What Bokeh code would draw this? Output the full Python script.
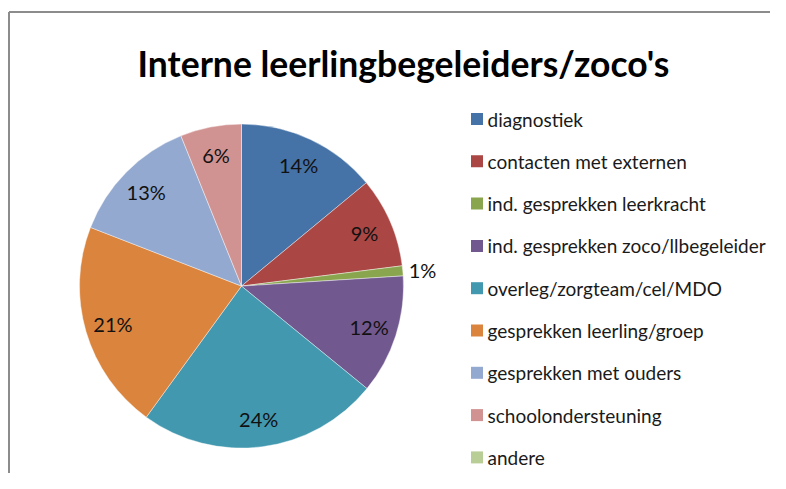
import numpy as np
from bokeh.plotting import figure
from bokeh.models import Range1d, ColumnDataSource
from bokeh.core.properties import value
from bokeh.embed import file_html
from bokeh.resources import INLINE

title = "Interne leerlingbegeleiders/zoco's"
categories = ["diagnostiek", "contacten met externen", "ind. gesprekken leerkracht",
              "ind. gesprekken zoco/llbegeleider", "overleg/zorgteam/cel/MDO",
              "gesprekken leerling/groep", "gesprekken met ouders",
              "schoolondersteuning", "andere"]
shares = [14.0, 9.0, 1.0, 11.9, 24.1, 20.9, 13.0, 6.1, 0.0]
colors = ["#4573A7", "#AA4643", "#89A54E", "#71588F", "#4198AF",
          "#DB843D", "#93A9CF", "#D19392", "#B9CD96"]

W, H = 770, 473
p = figure(width=W, height=H, output_backend="svg", toolbar_location=None,
           x_range=Range1d(0, W), y_range=Range1d(0, H), min_border=0,
           outline_line_color=None)
p.axis.visible = False
p.grid.visible = False
p.background_fill_color = "white"
p.border_fill_color = "white"

# chart frame (top and left edges visible)
p.segment(x0=[8.5, 8.5], y0=[0, H - 11.5], x1=[8.5, W + 5], y1=[H - 11.5, H - 11.5],
          line_color="#8c8c8c", line_width=2)

cx, cy, r = 241, H - 285.6, 162
vals = np.array(shares)
frac = vals / vals.sum()
cum = np.concatenate([[0], np.cumsum(frac)])
start = np.pi / 2 - 2 * np.pi * cum[:-1]
end = np.pi / 2 - 2 * np.pi * cum[1:]
mask = frac > 0
src = ColumnDataSource(dict(start=start[mask], end=end[mask],
                            color=[c for c, m in zip(colors, mask) if m]))
p.wedge(x=cx, y=cy, radius=r, start_angle="start", end_angle="end",
        direction="clock", fill_color="color", line_color="white",
        line_width=0.6, line_alpha=0.7, source=src)

mid = (start + end) / 2
lx, ly, lt, la = [], [], [], []
for i in range(len(vals)):
    if not mask[i]:
        continue
    pct = f"{round(frac[i] * 100):.0f}%"
    if frac[i] < 0.03:
        rr = r + 6
        la.append("left")
    else:
        rr = 134
        la.append("center")
    lx.append(cx + rr * np.cos(mid[i]))
    ly.append(cy + rr * np.sin(mid[i]))
    lt.append(pct)
p.text(x=lx, y=ly, text=lt, text_align=la, text_baseline="middle",
       text_font=value("Lato"), text_font_size="20px", text_color="#111111")

# title
p.text(x=[403], y=[H - 63], text=[title], text_align="center",
       text_baseline="alphabetic", text_font=value("Lato"),
       text_font_style="bold", text_font_size="35.5px", text_color="#000000")

# legend
n = len(categories)
step = 42.3
ys = [H - 118.5 - step * i for i in range(n)]
p.rect(x=[476.5] * n, y=ys, width=12, height=12, fill_color=colors, line_color=None)
p.text(x=[487] * n, y=ys, text=categories, text_align="left", text_baseline="middle",
       text_font=value("Lato"), text_font_size="19px", text_color="#1a1a1a")

open("out.html", "w").write(file_html(p, INLINE))
